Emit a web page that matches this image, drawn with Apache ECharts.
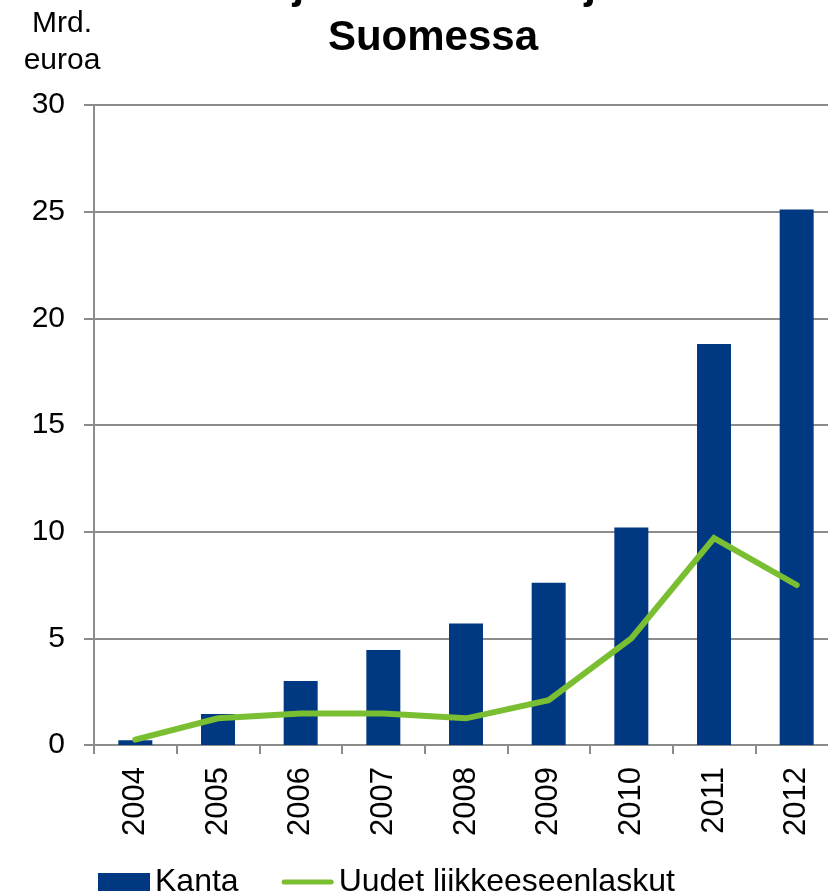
<!DOCTYPE html>
<html>
<head>
<meta charset="utf-8">
<script src="https://cdn.jsdelivr.net/npm/echarts@6/dist/echarts.min.js"></script>
<style>
  html, body { margin: 0; padding: 0; background: #ffffff; overflow: hidden; }
  /* the plot runs a little past the right edge of the page */
  #chart { width: 838px; height: 894px; }
</style>
</head>
<body>
<div id="chart"></div>
<script>
// Vuodet
const years = ['2004', '2005', '2006', '2007', '2008', '2009', '2010', '2011', '2012'];
// Kanta, mrd. euroa
const kanta = [0.22, 1.45, 3.0, 4.45, 5.7, 7.6, 10.2, 18.8, 25.1];
// Uudet liikkeeseenlaskut, mrd. euroa
const uudet = [0.25, 1.25, 1.48, 1.48, 1.25, 2.1, 5.0, 9.7, 7.5];
// Pystyakselin asteikko
const yTicks = { min: 0, max: 30, step: 5 };

const FONT = 'Liberation Sans, Arial, Helvetica, sans-serif';
const GRID_GRAY = '#8c8c8c';
const BLUE = '#003882';
const GREEN = '#7abe31';

const chart = echarts.init(document.getElementById('chart'), null, { renderer: 'canvas' });

chart.setOption({
  animation: false,
  backgroundColor: '#ffffff',
  title: [
    {
      text: 'Kotimaiset joukkovelkakirjamarkkinat',
      left: 66,
      top: -35,
      padding: 0,
      textStyle: { fontFamily: FONT, fontSize: 42, fontWeight: 'bold', color: '#000000' }
    },
    {
      text: 'Suomessa',
      left: 433,
      textAlign: 'center',
      top: 17,
      padding: 0,
      textStyle: { fontFamily: FONT, fontSize: 42, fontWeight: 'bold', color: '#000000' }
    }
  ],
  legend: {
    left: 93,
    top: 861,
    itemWidth: 52,
    itemHeight: 18,
    itemGap: 43,
    textStyle: { fontFamily: FONT, fontSize: 32, color: '#000000' },
    data: [
      { name: 'Kanta', icon: 'rect', itemStyle: { color: BLUE } },
      {
        name: 'Uudet liikkeeseenlaskut',
        icon: 'path://M2.5,0 H49.5 A2.5,2.5 0 0 1 49.5,5 H2.5 A2.5,2.5 0 0 1 2.5,0 Z',
        itemStyle: { color: GREEN }
      }
    ]
  },
  grid: { left: 94, right: 0, top: 105, bottom: 149, containLabel: false },
  xAxis: {
    type: 'category',
    data: years,
    boundaryGap: true,
    axisLine: { show: true, lineStyle: { color: GRID_GRAY, width: 2 } },
    axisTick: { show: true, length: 9, lineStyle: { color: GRID_GRAY, width: 2 } },
    axisLabel: {
      rotate: 90,
      margin: 22,
      fontFamily: FONT,
      fontSize: 31,
      color: '#000000'
    }
  },
  yAxis: {
    type: 'value',
    min: yTicks.min,
    max: yTicks.max,
    interval: yTicks.step,
    name: 'Mrd.\neuroa',
    nameLocation: 'end',
    nameGap: 26,
    nameTextStyle: {
      fontFamily: FONT,
      fontSize: 30,
      color: '#000000',
      align: 'center',
      lineHeight: 37,
      padding: [0, 64, 0, 0]
    },
    axisLine: { show: true, lineStyle: { color: GRID_GRAY, width: 2 } },
    axisTick: { show: true, length: 10, lineStyle: { color: GRID_GRAY, width: 2 } },
    axisLabel: { margin: 29, fontFamily: FONT, fontSize: 30, color: '#000000' },
    splitLine: { show: true, lineStyle: { color: GRID_GRAY, width: 2 } }
  },
  series: [
    {
      name: 'Kanta',
      type: 'bar',
      data: kanta,
      barWidth: 34,
      itemStyle: { color: BLUE },
      z: 2
    },
    {
      name: 'Uudet liikkeeseenlaskut',
      type: 'line',
      data: uudet,
      showSymbol: false,
      symbol: 'none',
      lineStyle: { color: GREEN, width: 6, cap: 'round', join: 'miter' },
      itemStyle: { color: GREEN },
      z: 3
    }
  ]
});
</script>
</body>
</html>
